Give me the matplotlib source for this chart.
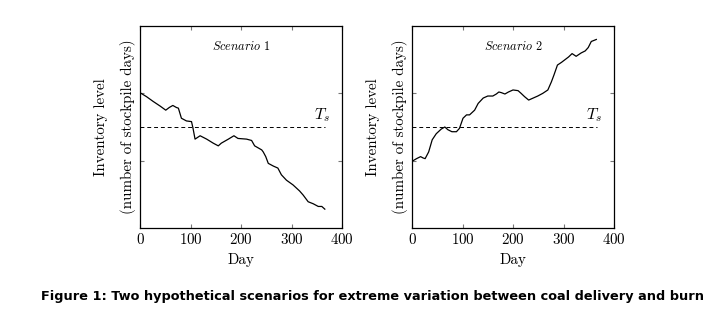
import matplotlib
matplotlib.use("Agg")
import matplotlib.pyplot as plt

plt.rcParams["mathtext.fontset"] = "cm"
plt.rcParams["font.family"] = ["cmr10", "DejaVu Serif"]
plt.rcParams["axes.formatter.use_mathtext"] = True

# scenario 1: stockpile drawn down over the year
days_1 = [0, 13, 26, 40, 51, 58, 65, 72, 76, 82, 92, 102, 105, 109, 119, 132,
          145, 155, 161, 175, 186, 194, 211, 221, 227, 241, 244, 249, 254, 264,
          273, 280, 290, 303, 316, 323, 333, 343, 353, 360, 366]
level_1 = [2.01, 1.95, 1.88, 1.81, 1.75, 1.79, 1.82, 1.79, 1.78, 1.63, 1.59,
           1.58, 1.48, 1.32, 1.37, 1.32, 1.26, 1.22, 1.26, 1.32, 1.37, 1.33,
           1.32, 1.30, 1.22, 1.16, 1.13, 1.06, 0.96, 0.92, 0.89, 0.79, 0.71,
           0.64, 0.55, 0.49, 0.39, 0.36, 0.32, 0.32, 0.28]

# scenario 2: stockpile builds up over the year
days_2 = [0, 9, 17, 22, 26, 33, 40, 48, 58, 65, 71, 79, 88, 94, 101, 108, 114,
          124, 131, 141, 150, 160, 167, 172, 177, 184, 191, 200, 210, 216, 223,
          231, 240, 249, 259, 269, 276, 281, 288, 296, 303, 310, 317, 325, 335,
          343, 349, 355, 365]
level_2 = [0.99, 1.03, 1.06, 1.04, 1.03, 1.13, 1.31, 1.40, 1.47, 1.50, 1.46,
           1.43, 1.43, 1.48, 1.63, 1.68, 1.68, 1.75, 1.85, 1.93, 1.96, 1.96,
           1.99, 2.02, 2.01, 1.99, 2.02, 2.05, 2.04, 2.00, 1.95, 1.90, 1.93,
           1.96, 2.00, 2.05, 2.17, 2.27, 2.42, 2.46, 2.50, 2.54, 2.59, 2.55,
           2.60, 2.63, 2.68, 2.77, 2.80]

threshold = 1.5
threshold_end = 366
x_ticks = [0, 100, 200, 300, 400]
y_ticks = [1, 2]

scenarios = [("Scenario\\ 1", days_1, level_1),
             ("Scenario\\ 2", days_2, level_2)]
lefts = [140 / 704, 412 / 704]

fig = plt.figure(figsize=(7.04, 3.09), dpi=100)

for left, (name, days, level) in zip(lefts, scenarios):
    ax = fig.add_axes([left, 81 / 309, 202 / 704, 202 / 309])
    ax.plot(days, level, color="black", lw=0.9)
    ax.plot([0, threshold_end], [threshold, threshold], color="black",
            lw=0.7, ls=(0, (4, 3)))
    ax.text(360, 1.68, r"$T_s$", ha="center", va="center", fontsize=11.5)
    ax.text(0.5, 0.9, r"$\mathit{" + name + "}$", transform=ax.transAxes,
            ha="center", va="center", fontsize=8.8)
    ax.set_xlim(0, 400)
    ax.set_ylim(0, 3)
    ax.set_xticks(x_ticks)
    ax.set_yticks(y_ticks)
    ax.set_yticklabels([])
    ax.tick_params(direction="in", top=True, right=True, length=3,
                   color="#777777", labelsize=10.8, pad=3)
    for sp in ax.spines.values():
        sp.set_linewidth(0.9)
    ax.set_xlabel("Day", fontsize=10.8, labelpad=4)
    ax.set_ylabel("Inventory level\n(number of stockpile days)", fontsize=10.8,
                  linespacing=2.0, labelpad=0)

fig.text(0.529, 0.039,
         "Figure 1: Two hypothetical scenarios for extreme variation between coal delivery and burn",
         ha="center", va="center", fontsize=9.3, fontweight="bold",
         family="DejaVu Sans")

fig.savefig("out.png", dpi=100)
